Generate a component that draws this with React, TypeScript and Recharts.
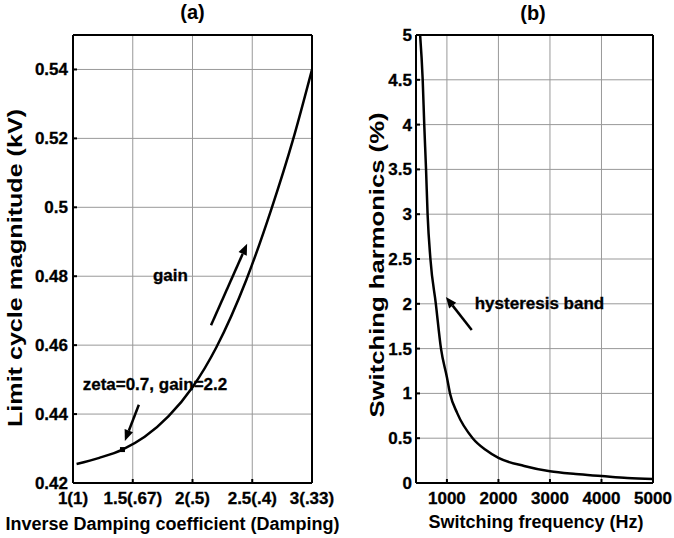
import React from 'react';
import {
  LineChart, Line, XAxis, YAxis, ReferenceLine, ReferenceDot, Label,
} from 'recharts';

// (a) limit cycle magnitude vs inverse damping coefficient
const dampX = [1.03, 1.22, 1.414, 1.6, 1.8, 2.0, 2.2, 2.45, 2.66, 2.84, 3.0];
const limitKV = [0.4255, 0.4273, 0.4297, 0.4334, 0.4394, 0.4478, 0.4594, 0.4789, 0.4995, 0.5195, 0.54];
const dampTicks = [1, 1.5, 2, 2.5, 3];
const dampTickLabels = ['1(1)', '1.5(.67)', '2(.5)', '2.5(.4)', '3(.33)'];
const kvTicks = [0.42, 0.44, 0.46, 0.48, 0.5, 0.52, 0.54];
const operatingX = 1.414;
const operatingY = 0.4297;

// (b) switching harmonics vs switching frequency
const freqHz = [480, 530, 560, 595, 625, 680, 785, 885, 1000, 1060, 1200, 1500, 1750, 2000, 2500, 3000, 3500, 4000, 4500, 5000];
const harmonicsPct = [5.0, 4.5, 4.0, 3.5, 3.0, 2.5, 2.0, 1.5, 1.18, 1.0, 0.78, 0.5, 0.37, 0.28, 0.19, 0.13, 0.1, 0.078, 0.056, 0.045];
const freqTicks = [1000, 2000, 3000, 4000, 5000];
const harmTicks = [0, 0.5, 1, 1.5, 2, 2.5, 3, 3.5, 4, 4.5, 5];

// annotation arrows (tail -> head) and text anchors, in data units
const gainArrow = [{ x: 2.155, y: 0.4658 }, { x: 2.457, y: 0.4894 }];
const zetaArrow = [{ x: 1.551, y: 0.4427 }, { x: 1.434, y: 0.4322 }];
const bandArrow = [{ x: 1482, y: 1.708 }, { x: 980, y: 2.076 }];

const FONT = '"Liberation Sans", Arial, Helvetica, sans-serif';
const axisStroke = { stroke: '#000', strokeWidth: 2 };
const GRID = '#999';

const boldTick = (fmt: (v: number) => string, dy: string) => (p: any) => (
  <text x={p.x} y={p.y} dy={dy} textAnchor={p.textAnchor} fontSize={17} fontWeight="bold"
    fontFamily={FONT} fill="#000" stroke="#000" strokeWidth={0.3}>{fmt(p.payload.value)}</text>
);
const plain = (v: number) => String(v);
const dampLabel = (v: number) => dampTickLabels[dampTicks.indexOf(v)] ?? String(v);

const Arrow = (p: any) => {
  const { x1, y1, x2, y2 } = p;
  const dx = x2 - x1;
  const dy = y2 - y1;
  const len = Math.hypot(dx, dy) || 1;
  const ux = dx / len;
  const uy = dy / len;
  const hl = 11;
  const hw = 4.5;
  const bx = x2 - ux * hl;
  const by = y2 - uy * hl;
  return (
    <g>
      <line x1={x1} y1={y1} x2={bx} y2={by} stroke="#000" strokeWidth={2.5} />
      <polygon
        points={`${x2},${y2} ${bx - uy * hw},${by + ux * hw} ${bx + uy * hw},${by - ux * hw}`}
        fill="#000"
      />
    </g>
  );
};

const note = (text: string) => (p: any) => (
  <text x={p.cx} y={p.cy} fontSize={17} fontWeight="bold" fontFamily={FONT} fill="#000"
    stroke="#000" strokeWidth={0.3}>{text}</text>
);

const vbOf = (p: any) => p.viewBox ?? { x: 0, y: 0, width: 0, height: 0 };

const xTitle = (text: string, dx: number, dy: number) => (p: any) => {
  const vb = vbOf(p);
  return (
    <text x={vb.x + vb.width / 2 + dx} y={vb.y + dy} textAnchor="middle"
      fontSize={18} fontWeight="bold" fontFamily={FONT} fill="#000">{text}</text>
  );
};

const panelTitle = (text: string, dx: number, dy: number) => (p: any) => {
  const vb = vbOf(p);
  return (
    <text x={vb.x + vb.width / 2 + dx} y={vb.y + dy} textAnchor="middle"
      fontSize={20} fontWeight="bold" fontFamily={FONT} fill="#000">{text}</text>
  );
};

const yTitle = (text: string, bx: number, dy: number, length: number) => (p: any) => {
  const vb = vbOf(p);
  const x = vb.x + bx;
  const y = vb.y + vb.height / 2 + dy;
  return (
    <text x={x} y={y} transform={`rotate(-90 ${x} ${y})`} textAnchor="middle"
      textLength={length} lengthAdjust="spacingAndGlyphs"
      fontSize={21} fontWeight="bold" fontFamily={FONT} fill="#000">{text}</text>
  );
};

const PanelA = () => {
  const data = dampX.map((x, i) => ({ x, y: limitKV[i] }));
  return (
    <LineChart width={340} height={538} data={data} margin={{ top: 34, right: 27, bottom: 0, left: 0 }}>
      {dampTicks.map((t) => <ReferenceLine key={`gx${t}`} x={t} stroke={GRID} strokeWidth={1} />)}
      {kvTicks.map((t) => <ReferenceLine key={`gy${t}`} y={t} stroke={GRID} strokeWidth={1} />)}
      <XAxis type="number" dataKey="x" domain={[1, 3]} ticks={dampTicks} interval={0}
        height={55} tick={boldTick(dampLabel, '0.71em')} axisLine={axisStroke} tickLine={axisStroke}
        tickSize={-4} tickMargin={13} allowDataOverflow>
        <Label content={xTitle('Inverse Damping coefficient (Damping)', -20, 47)} />
      </XAxis>
      <XAxis xAxisId="top" orientation="top" type="number" domain={[1, 3]} ticks={dampTicks}
        height={1} tick={false} axisLine={axisStroke} tickLine={axisStroke} tickSize={-4} allowDataOverflow>
        <Label content={panelTitle('(a)', 0, -15)} />
      </XAxis>
      <YAxis type="number" domain={[0.42, 0.55]} ticks={kvTicks} interval={0} width={73}
        tick={boldTick(plain, '0.355em')} axisLine={axisStroke} tickLine={axisStroke}
        tickSize={-4} tickMargin={9} allowDataOverflow>
        <Label content={yTitle('Limit cycle magnitude (kV)', 22, 9, 318)} />
      </YAxis>
      <YAxis yAxisId="right" orientation="right" type="number" domain={[0.42, 0.55]} ticks={kvTicks}
        width={1} tick={false} axisLine={axisStroke} tickLine={axisStroke} tickSize={-4} allowDataOverflow />
      <Line type="monotone" dataKey="y" stroke="#000" strokeWidth={2.5} dot={false} isAnimationActive={false} />
      <ReferenceDot x={operatingX} y={operatingY} shape={(p: any) => (
        <rect x={p.cx - 2.5} y={p.cy - 2.5} width={5} height={5} fill="#000" />
      )} />
      <ReferenceLine segment={gainArrow} shape={Arrow} />
      <ReferenceLine segment={zetaArrow} shape={Arrow} />
      <ReferenceDot x={1.669} y={0.4786} shape={note('gain')} />
      <ReferenceDot x={1.081} y={0.4471} shape={note('zeta=0.7, gain=2.2')} />
    </LineChart>
  );
};

const PanelB = () => {
  const data = freqHz.map((x, i) => ({ x, y: harmonicsPct[i] }));
  return (
    <LineChart width={334} height={538} data={data} margin={{ top: 34, right: 20, bottom: 0, left: 0 }}>
      {freqTicks.map((t) => <ReferenceLine key={`gx${t}`} x={t} stroke={GRID} strokeWidth={1} />)}
      {harmTicks.map((t) => <ReferenceLine key={`gy${t}`} y={t} stroke={GRID} strokeWidth={1} />)}
      <XAxis type="number" dataKey="x" domain={[400, 5000]} ticks={freqTicks} interval={0}
        height={55} tick={boldTick(plain, '0.71em')} axisLine={axisStroke} tickLine={axisStroke}
        tickSize={-4} tickMargin={13} allowDataOverflow>
        <Label content={xTitle('Switching frequency (Hz)', 1.5, 45)} />
      </XAxis>
      <XAxis xAxisId="top" orientation="top" type="number" domain={[400, 5000]} ticks={freqTicks}
        height={1} tick={false} axisLine={axisStroke} tickLine={axisStroke} tickSize={-4} allowDataOverflow>
        <Label content={panelTitle('(b)', -1.5, -14)} />
      </XAxis>
      <YAxis type="number" domain={[0, 5]} ticks={harmTicks} interval={0} width={76}
        tick={boldTick(plain, '0.355em')} axisLine={axisStroke} tickLine={axisStroke}
        tickSize={-4} tickMargin={8} allowDataOverflow>
        <Label content={yTitle('Switching harmonics (%)', 44, 6, 305)} />
      </YAxis>
      <YAxis yAxisId="right" orientation="right" type="number" domain={[0, 5]} ticks={harmTicks}
        width={1} tick={false} axisLine={axisStroke} tickLine={axisStroke} tickSize={-4} allowDataOverflow />
      <Line type="monotone" dataKey="y" stroke="#000" strokeWidth={2.5} dot={false} isAnimationActive={false} />
      <ReferenceLine segment={bandArrow} shape={Arrow} />
      <ReferenceDot x={1540} y={1.942} shape={note('hysteresis band')} />
    </LineChart>
  );
};

export default function App() {
  return (
    <div style={{ position: 'absolute', left: 0, top: 0, width: 674, height: 538, background: '#fff' }}>
      <div style={{ position: 'absolute', left: 0, top: 0 }}>
        <PanelA />
      </div>
      <div style={{ position: 'absolute', left: 340, top: 0 }}>
        <PanelB />
      </div>
    </div>
  );
}
